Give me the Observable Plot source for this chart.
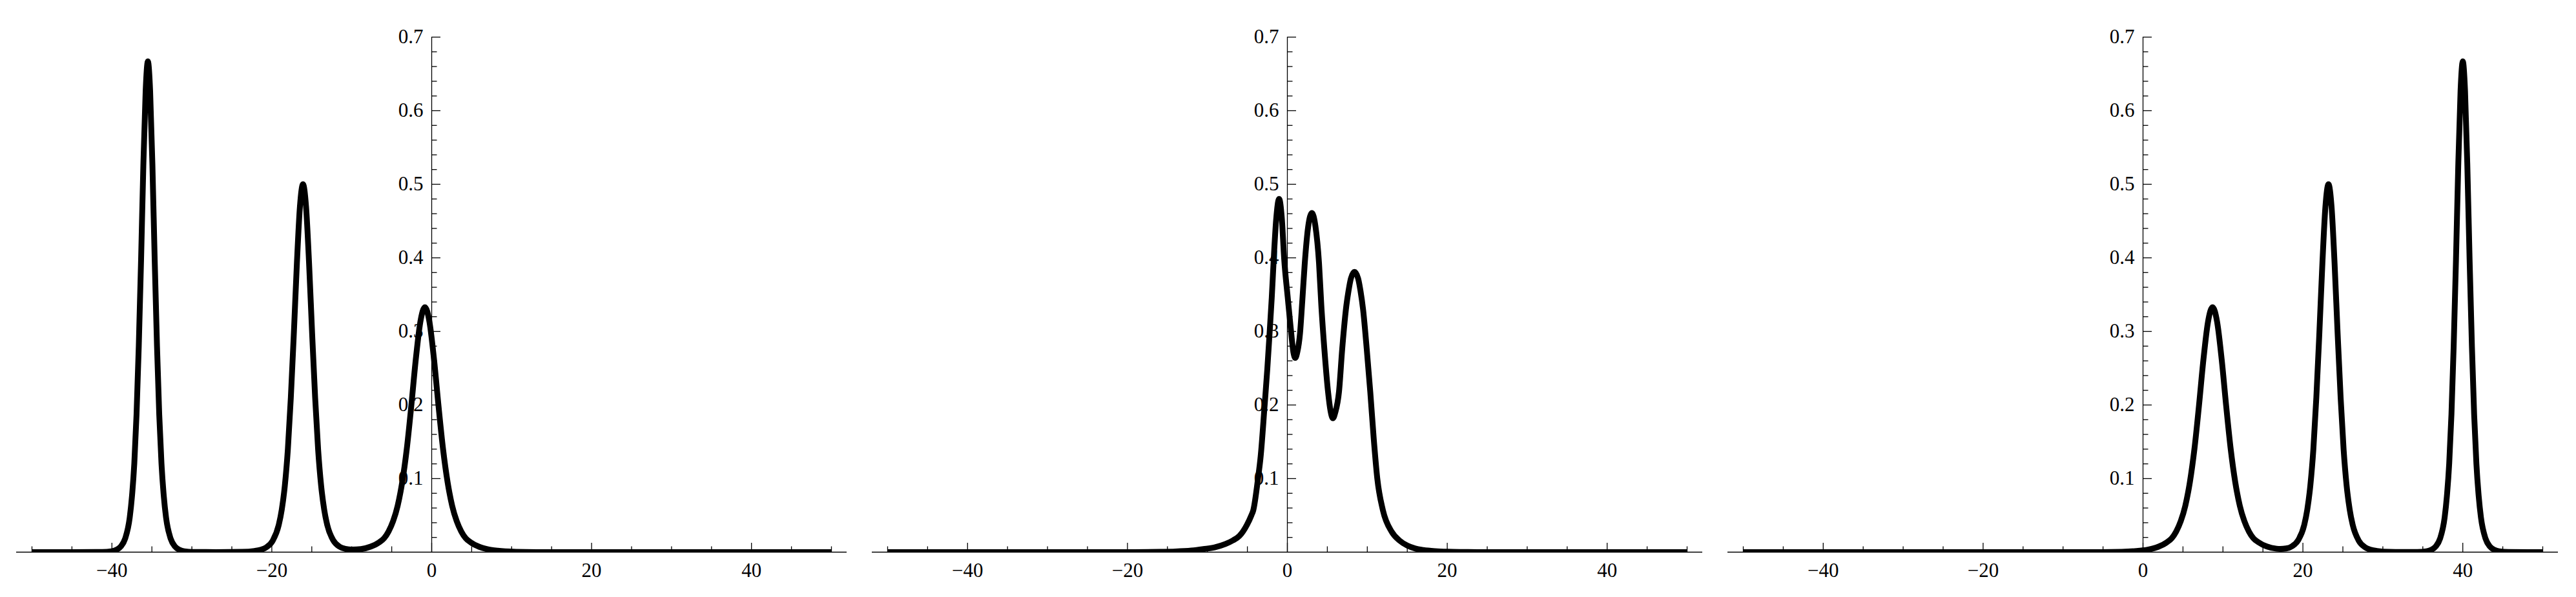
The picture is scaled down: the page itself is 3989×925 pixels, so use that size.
<!DOCTYPE html>
<html><head><meta charset="utf-8">
<script src="https://cdn.jsdelivr.net/npm/d3@7"></script>
<script src="https://cdn.jsdelivr.net/npm/@observablehq/plot@0.6"></script>
<style>
html,body{margin:0;padding:0;background:#fff;}
#wrap{position:relative;width:3989px;height:925px;overflow:hidden;background:#fff;}
#wrap svg{position:absolute;top:0;}
#wrap svg text{font-family:'Liberation Serif','Times New Roman',Times,serif !important;font-size:31px !important;}
</style></head><body><div id="wrap"></div>
<script>
// ---- tick values / labels ----
const xMajorTicks = [-40, -20, 0, 20, 40];
const xMajorLabels = ["\u221240", "\u221220", "0", "20", "40"];
const xMinorTicks = [-50, -45, -35, -30, -25, -15, -10, -5, 5, 10, 15, 25, 30, 35, 45, 50];
const yMajorTicks = [0.1, 0.2, 0.3, 0.4, 0.5, 0.6, 0.7];
const yMajorLabels = ["0.1", "0.2", "0.3", "0.4", "0.5", "0.6", "0.7"];
const yMinorTicks = [0.02, 0.04, 0.06, 0.08, 0.12, 0.14, 0.16, 0.18, 0.22, 0.24, 0.26, 0.28,
  0.32, 0.34, 0.36, 0.38, 0.42, 0.44, 0.46, 0.48, 0.52, 0.54, 0.56, 0.58, 0.62, 0.64, 0.66, 0.68];

// ---- panel 1 (before collision) ----
const panel1X = [-50,-45,-41.2,-40.05,-39.48,-38.91,-38.34,-37.77,-37.49,-37.2,-36.92,-36.64,-36.35,-36.07,-35.78,-35.5,-35.22,-34.93,-34.65,-34.36,-34.08,-33.8,-33.51,-33.23,-32.66,-32.09,-31.52,-30.95,-29.8,-27,-23.7,-22.16,-21.4,-20.65,-19.89,-19.13,-18.75,-18.37,-17.99,-17.62,-17.24,-16.86,-16.48,-16.1,-15.72,-15.34,-14.96,-14.58,-14.21,-13.83,-13.45,-13.07,-12.31,-11.55,-10.8,-9.95,-8.85,-7.65,-6.55,-5.95,-5.4,-4.83,-4.26,-3.69,-3.12,-2.55,-1.99,-1.42,-0.85,-0.28,0.29,0.85,1.42,1.99,2.56,3.13,3.7,4.25,4.85,5.95,7.15,8.25,10.55,13.15,20,50];
const panel1Y = [0,0,0.0002,0.0012,0.003,0.0075,0.0185,0.0471,0.0759,0.1205,0.187,0.28,0.398,0.5245,0.627,0.667,0.627,0.5245,0.398,0.28,0.187,0.1205,0.0759,0.0471,0.0185,0.0075,0.003,0.0012,0.0002,0.0001,0.0004,0.0016,0.0032,0.0068,0.0155,0.037,0.058,0.0904,0.14,0.21,0.298,0.393,0.47,0.5,0.47,0.393,0.298,0.21,0.14,0.0904,0.058,0.037,0.016,0.0076,0.0045,0.0035,0.0042,0.0074,0.0135,0.019,0.028,0.042,0.063,0.095,0.14,0.199,0.262,0.313,0.333,0.313,0.262,0.199,0.14,0.095,0.063,0.042,0.028,0.019,0.0135,0.0072,0.0036,0.0019,0.0005,0.0001,0,0];

// ---- panel 2 (interaction) ----
const panel2X = [-50,-20,-16,-14,-12,-10.5,-9.1,-7.75,-6.8,-6.0,-5.06,-4.5,-4.26,-3.67,-3.34,-2.86,-2.5,-2.22,-1.95,-1.7,-1.4,-1.03,-0.7,-0.4,0.05,0.48,0.75,0.99,1.25,1.59,1.86,2.18,2.6,3.07,3.5,3.96,4.25,4.63,5.09,5.4,5.7,6.0,6.46,6.86,7.38,7.65,7.95,8.4,8.85,9.15,9.47,9.93,10.37,10.8,11.25,11.95,13.03,14,15,16,17,18.5,20,22,24,50];
const panel2Y = [0,0,0.0004,0.0009,0.0022,0.0042,0.0065,0.011,0.016,0.022,0.037,0.05,0.057,0.1,0.13,0.197,0.25,0.298,0.346,0.399,0.452,0.48,0.455,0.399,0.346,0.298,0.272,0.264,0.272,0.298,0.34,0.393,0.442,0.461,0.444,0.393,0.335,0.276,0.218,0.192,0.182,0.19,0.218,0.276,0.335,0.355,0.372,0.381,0.372,0.355,0.33,0.276,0.218,0.155,0.1,0.057,0.028,0.016,0.009,0.005,0.003,0.0014,0.0006,0.0002,0,0];

// ---- panel 3 (after collision) ----
const panel3X = [-50,-5.3,-2.7,-0.4,0.7,1.9,3.0,3.6,4.15,4.72,5.29,5.86,6.43,7.0,7.56,8.13,8.7,9.27,9.84,10.4,10.97,11.54,12.11,12.68,13.25,13.8,14.4,15.5,16.7,17.15,17.9,18.65,19.41,20.17,20.55,20.93,21.31,21.68,22.06,22.44,22.82,23.2,23.58,23.96,24.34,24.72,25.09,25.47,25.85,26.23,26.99,27.75,28.5,29.26,30.8,34.3,35.45,36.02,36.59,37.16,37.73,38.01,38.3,38.58,38.86,39.15,39.43,39.72,40.0,40.28,40.57,40.85,41.14,41.42,41.7,41.99,42.27,42.84,43.41,43.98,44.55,45.7,50];
const panel3Y = [0,0.0001,0.0005,0.0019,0.0036,0.0072,0.0135,0.019,0.028,0.042,0.063,0.095,0.14,0.199,0.262,0.313,0.333,0.313,0.262,0.199,0.14,0.095,0.063,0.042,0.028,0.019,0.0137,0.0076,0.0047,0.0044,0.005,0.008,0.0163,0.037,0.058,0.0904,0.14,0.21,0.298,0.393,0.47,0.5,0.47,0.393,0.298,0.21,0.14,0.0904,0.058,0.037,0.0155,0.0068,0.0032,0.0016,0.0004,0.0002,0.0012,0.003,0.0075,0.0185,0.0471,0.0759,0.1205,0.187,0.28,0.398,0.5245,0.627,0.667,0.627,0.5245,0.398,0.28,0.187,0.1205,0.0759,0.0471,0.0185,0.0075,0.003,0.0012,0.0002,0];

// ---- layout / style ----
const W = 1325, H = 925, mt = 57, mb = 70, ml = 49, mr = 38;
const xDomain = [-50, 50], yDomain = [0, 0.7];
const panelLefts = [0, 1325, 2650];
const font = "'Liberation Serif', 'Times New Roman', Times, serif";
const fontSize = 31;
const xPerPx = (xDomain[1] - xDomain[0]) / (W - ml - mr);
const yPerPx = (yDomain[1] - yDomain[0]) / (H - mt - mb);
const majorLen = 14, minorLen = 8.5, axisOver = 24;

function table(xs, ys) {
  if (xs.length !== ys.length) console.error("length mismatch", xs.length, ys.length);
  return xs.map((x, i) => ({x, y: ys[i]}));
}

function panel(data) {
  return Plot.plot({
    width: W, height: H,
    marginTop: mt, marginBottom: mb, marginLeft: ml, marginRight: mr,
    x: {domain: xDomain, axis: null},
    y: {domain: yDomain, axis: null},
    style: {background: "transparent", overflow: "visible", fontFamily: font, fontSize: fontSize + "px"},
    marks: [
      Plot.ruleY([0], {x1: xDomain[0] - axisOver * xPerPx, x2: xDomain[1] + axisOver * xPerPx, stroke: "black", strokeWidth: 1.3}),
      Plot.ruleX([0], {y1: yDomain[0], y2: yDomain[1], stroke: "black", strokeWidth: 1.3}),
      Plot.ruleX(xMajorTicks, {x: d => d, y1: 0, y2: majorLen * yPerPx, stroke: "black", strokeWidth: 1.3}),
      Plot.ruleX(xMinorTicks, {x: d => d, y1: 0, y2: minorLen * yPerPx, stroke: "black", strokeWidth: 1.3}),
      Plot.ruleY(yMajorTicks, {y: d => d, x1: 0, x2: majorLen * xPerPx, stroke: "black", strokeWidth: 1.3}),
      Plot.ruleY(yMinorTicks, {y: d => d, x1: 0, x2: minorLen * xPerPx, stroke: "black", strokeWidth: 1.3}),
      Plot.text(xMajorTicks, {x: d => d, y: 0, text: (d, i) => xMajorLabels[i], dy: 29, fontSize, fontFamily: font, fill: "black", textAnchor: "middle", lineAnchor: "middle"}),
      Plot.text(yMajorTicks, {x: 0, y: d => d, text: (d, i) => yMajorLabels[i], dx: -13, fontSize, fontFamily: font, fill: "black", textAnchor: "end", lineAnchor: "middle"}),
      Plot.line(data, {x: "x", y: "y", stroke: "black", strokeWidth: 9, curve: "monotone-x", clip: true, strokeLinejoin: "round"})
    ]
  });
}

const wrap = document.getElementById("wrap");
const datasets = [table(panel1X, panel1Y), table(panel2X, panel2Y), table(panel3X, panel3Y)];
datasets.forEach((d, i) => {
  const svg = panel(d);
  svg.style.left = panelLefts[i] + "px";
  wrap.appendChild(svg);
});
</script>
</body></html>
